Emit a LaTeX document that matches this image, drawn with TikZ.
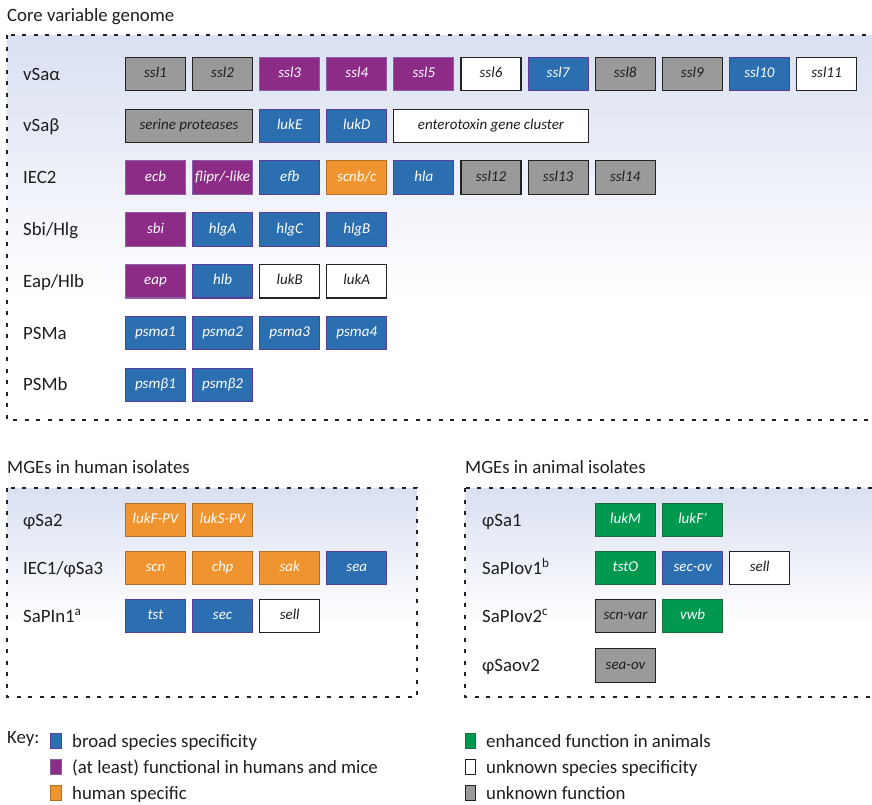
\documentclass[tikz,border=0pt]{standalone}
\usepackage{fontspec}
\setmainfont{Carlito}
\definecolor{cblue}{HTML}{2C6FB1}
\definecolor{cblueb}{HTML}{5A3D99}
\definecolor{cpurp}{HTML}{8C2C86}
\definecolor{cpurpb}{HTML}{8A5FAA}
\definecolor{corng}{HTML}{EF942E}
\definecolor{corngb}{HTML}{AE7128}
\definecolor{cgrn}{HTML}{00994F}
\definecolor{cgrnb}{HTML}{1D6B3C}
\definecolor{cgray}{HTML}{9A9A9A}
\definecolor{cdark}{HTML}{222222}
\definecolor{bgtop}{HTML}{DAE0F1}
\definecolor{ctext}{HTML}{1E1E1E}
\tikzset{
  gene/.style={draw, line width=1.1pt, minimum width=60pt, minimum height=33.5pt, inner sep=0pt,
    font=\fontsize{15}{17}\selectfont\itshape, text height=10.5pt, text depth=3pt},
  gB/.style={gene, fill=cblue, draw=cblueb, text=white},
  gP/.style={gene, fill=cpurp, draw=cpurpb, text=white},
  gO/.style={gene, fill=corng, draw=corngb, text=white},
  gG/.style={gene, fill=cgrn, draw=cgrnb, text=white},
  gY/.style={gene, fill=cgray, draw=cdark, text=ctext},
  gW/.style={gene, fill=white, draw=cdark, text=ctext},
  rowlab/.style={anchor=west, inner sep=0pt, font=\fontsize{18.8}{21}\selectfont, text=ctext, text height=12pt, text depth=0pt},
  title/.style={anchor=base west, inner sep=0pt, font=\fontsize{18.8}{21}\selectfont, text=ctext},
  dbox/.style={draw=cdark, line width=1.2pt, dash pattern=on 4pt off 7.5pt},
  sw/.style={draw, line width=1pt, minimum width=10.5pt, minimum height=15pt, inner sep=0pt},
  keytext/.style={anchor=west, inner sep=0pt, font=\fontsize{18.8}{21}\selectfont, text=ctext, text height=12pt, text depth=0pt}
}
\begin{document}
\begin{tikzpicture}[x=1pt,y=-1pt]
\useasboundingbox (0,0) rectangle (872,804);
\clip (0,0) rectangle (872,804);
% backgrounds
\shade[top color=bgtop, bottom color=white] (7,35) rectangle (885,300);
\shade[top color=bgtop, bottom color=white] (7,488) rectangle (417,625);
\shade[top color=bgtop, bottom color=white] (465,488) rectangle (885,625);
\draw[dbox] (7,35) rectangle (885,420);
\draw[dbox] (7,488) rectangle (417,697);
\draw[dbox] (465,488) rectangle (885,697);
% titles
\node[title] (t1) at (7,21) {Core variable genome};
\node[title] (t2) at (7,473) {MGEs in human isolates};
\node[title] (t3) at (465,473) {MGEs in animal isolates};
% core rows
\node[rowlab] (l1) at (23,74) {vSaα};
\node[rowlab] (l2) at (23,125.8) {vSaβ};
\node[rowlab] (l3) at (23,177.6) {IEC2};
\node[rowlab] (l4) at (23,229.4) {Sbi/Hlg};
\node[rowlab] (l5) at (23,281.2) {Eap/Hlb};
\node[rowlab] (l6) at (23,333) {PSMa};
\node[rowlab] (l7) at (23,384.8) {PSMb};
\foreach \t/\s [count=\i from 0] in {ssl1/gY,ssl2/gY,ssl3/gP,ssl4/gP,ssl5/gP,ssl6/gW,ssl7/gB,ssl8/gY,ssl9/gY,ssl10/gB,ssl11/gW}
  \node[\s] (a\i) at ({155.5+67.1*\i},74) {\t};
\node[gY, minimum width=127pt] (b0) at (189,125.8) {serine proteases};
\node[gB] (b2) at (289.7,125.8) {lukE};
\node[gB] (b3) at (356.8,125.8) {lukD};
\node[gW, minimum width=195pt] (b4) at (491,125.8) {enterotoxin gene cluster};
\foreach \t/\s [count=\i from 0] in {ecb/gP,{flipr/-like}/gP,efb/gB,{scnb/c}/gO,hla/gB,ssl12/gY,ssl13/gY,ssl14/gY}
  \node[\s] (c\i) at ({155.5+67.1*\i},177.6) {\t};
\foreach \t/\s [count=\i from 0] in {sbi/gP,hlgA/gB,hlgC/gB,hlgB/gB}
  \node[\s] (d\i) at ({155.5+67.1*\i},229.4) {\t};
\foreach \t/\s [count=\i from 0] in {eap/gP,hlb/gB,lukB/gW,lukA/gW}
  \node[\s] (e\i) at ({155.5+67.1*\i},281.2) {\t};
\foreach \t/\s [count=\i from 0] in {psma1/gB,psma2/gB,psma3/gB,psma4/gB}
  \node[\s] (f\i) at ({155.5+67.1*\i},333) {\t};
\foreach \t/\s [count=\i from 0] in {psmβ1/gB,psmβ2/gB}
  \node[\s] (g\i) at ({155.5+67.1*\i},384.8) {\t};
% human MGEs
\node[rowlab] (h1) at (23,520) {φSa2};
\node[rowlab] (h2) at (23,568) {IEC1/φSa3};
\node[rowlab] (h3) at (23,616) {SaPIn1\textsuperscript{a}};
\foreach \t/\s [count=\i from 0] in {lukF-PV/gO,lukS-PV/gO}
  \node[\s] (p\i) at ({155.5+67.1*\i},520) {\t};
\foreach \t/\s [count=\i from 0] in {scn/gO,chp/gO,sak/gO,sea/gB}
  \node[\s] (q\i) at ({155.5+67.1*\i},568) {\t};
\foreach \t/\s [count=\i from 0] in {tst/gB,sec/gB,sell/gW}
  \node[\s] (r\i) at ({155.5+67.1*\i},616) {\t};
% animal MGEs
\node[rowlab] (m1) at (482,520) {φSa1};
\node[rowlab] (m2) at (482,568) {SaPIov1\textsuperscript{b}};
\node[rowlab] (m3) at (482,616) {SaPIov2\textsuperscript{c}};
\node[rowlab] (m4) at (482,665) {φSaov2};
\foreach \t/\s [count=\i from 0] in {lukM/gG,lukF’/gG}
  \node[\s] (u\i) at ({625.5+67.1*\i},520) {\t};
\foreach \t/\s [count=\i from 0] in {tstO/gG,sec-ov/gB,sell/gW}
  \node[\s] (v\i) at ({625.5+67.1*\i},568) {\t};
\foreach \t/\s [count=\i from 0] in {scn-var/gY,vwb/gG}
  \node[\s] (w\i) at ({625.5+67.1*\i},616) {\t};
\node[gY] (z0) at (625.5,665.5) {sea-ov};
% key
\node[title] (key) at (7,743) {Key:};
\node[sw, fill=cblue, draw=cblueb] (k1) at (56,741) {};
\node[sw, fill=cpurp, draw=cpurpb] (k2) at (56,767) {};
\node[sw, fill=corng, draw=corngb] (k3) at (56,793) {};
\node[keytext] (kt1) at (72,741) {broad species specificity};
\node[keytext] (kt2) at (72,767) {(at least) functional in humans and mice};
\node[keytext] (kt3) at (72,793) {human specific};
\node[sw, fill=cgrn, draw=cgrnb] (k4) at (470.5,741) {};
\node[sw, fill=white, draw=cdark] (k5) at (470.5,767) {};
\node[sw, fill=cgray, draw=cdark] (k6) at (470.5,793) {};
\node[keytext] (kt4) at (486,741) {enhanced function in animals};
\node[keytext] (kt5) at (486,767) {unknown species specificity};
\node[keytext] (kt6) at (486,793) {unknown function};
\end{tikzpicture}
\end{document}
